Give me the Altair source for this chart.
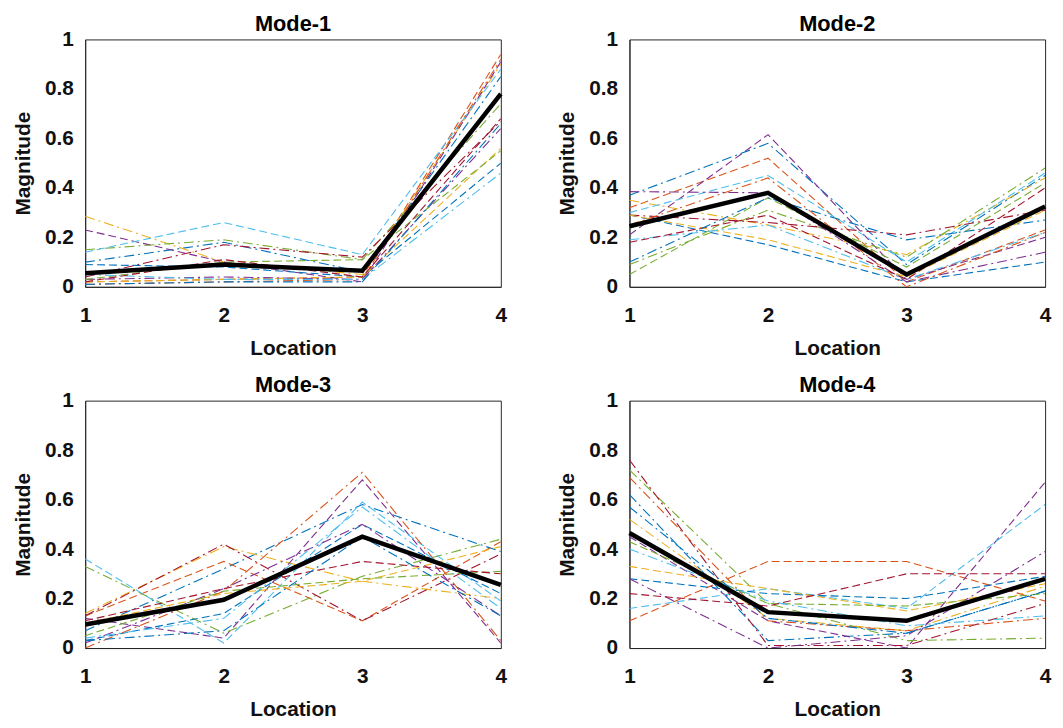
import altair as alt
import pandas as pd

locations = [1, 2, 3, 4]
mode_titles = ["Mode-1", "Mode-2", "Mode-3", "Mode-4"]

mode1_lines = [
    [0.10, 0.18, 0.06, 0.85],
    [0.02, 0.03, 0.04, 0.94],
    [0.285, 0.10, 0.05, 0.90],
    [0.23, 0.10, 0.02, 0.91],
    [0.15, 0.19, 0.11, 0.74],
    [0.14, 0.26, 0.13, 0.88],
    [0.04, 0.17, 0.12, 0.67],
    [0.09, 0.08, 0.04, 0.50],
    [0.01, 0.02, 0.03, 0.92],
    [0.02, 0.03, 0.04, 0.56],
    [0.03, 0.04, 0.03, 0.64],
    [0.03, 0.10, 0.11, 0.55],
    [0.05, 0.03, 0.03, 0.46],
    [0.02, 0.11, 0.04, 0.68],
    [0.01, 0.02, 0.02, 0.66],
]
mode1_mean = [0.055, 0.09, 0.065, 0.78]

mode2_lines = [
    [0.37, 0.58, 0.09, 0.45],
    [0.32, 0.52, 0.02, 0.23],
    [0.35, 0.25, 0.13, 0.44],
    [0.21, 0.615, 0.03, 0.20],
    [0.09, 0.31, 0.12, 0.48],
    [0.30, 0.45, 0.10, 0.46],
    [0.29, 0.26, 0.21, 0.31],
    [0.29, 0.17, 0.02, 0.10],
    [0.25, 0.44, 0.00, 0.22],
    [0.29, 0.19, 0.04, 0.31],
    [0.385, 0.38, 0.02, 0.14],
    [0.05, 0.36, 0.08, 0.42],
    [0.19, 0.25, 0.03, 0.22],
    [0.18, 0.29, 0.03, 0.40],
    [0.10, 0.36, 0.19, 0.27],
]
mode2_mean = [0.245, 0.38, 0.05, 0.325]

mode3_lines = [
    [0.07, 0.32, 0.58, 0.39],
    [0.13, 0.35, 0.11, 0.43],
    [0.14, 0.41, 0.27, 0.20],
    [0.12, 0.04, 0.68, 0.02],
    [0.33, 0.06, 0.29, 0.44],
    [0.36, 0.02, 0.59, 0.19],
    [0.13, 0.42, 0.11, 0.38],
    [0.03, 0.14, 0.50, 0.22],
    [0.00, 0.23, 0.71, 0.03],
    [0.10, 0.22, 0.27, 0.41],
    [0.02, 0.24, 0.50, 0.13],
    [0.05, 0.23, 0.28, 0.31],
    [0.04, 0.12, 0.57, 0.16],
    [0.11, 0.24, 0.35, 0.30],
    [0.03, 0.07, 0.45, 0.13],
]
mode3_mean = [0.095, 0.195, 0.45, 0.255]

mode4_lines = [
    [0.62, 0.03, 0.06, 0.23],
    [0.11, 0.35, 0.35, 0.19],
    [0.52, 0.12, 0.07, 0.25],
    [0.45, 0.11, 0.00, 0.67],
    [0.72, 0.18, 0.03, 0.04],
    [0.16, 0.24, 0.16, 0.58],
    [0.76, 0.01, 0.01, 0.18],
    [0.28, 0.22, 0.20, 0.29],
    [0.69, 0.11, 0.07, 0.12],
    [0.33, 0.24, 0.15, 0.26],
    [0.28, 0.00, 0.05, 0.39],
    [0.43, 0.18, 0.17, 0.22],
    [0.40, 0.19, 0.09, 0.13],
    [0.22, 0.17, 0.30, 0.30],
    [0.57, 0.12, 0.06, 0.23],
]
mode4_mean = [0.465, 0.145, 0.11, 0.28]

y_ticks = [0, 0.2, 0.4, 0.6, 0.8, 1]

matlab_colors = ["#0072BD", "#D95319", "#EDB120", "#7E2F8E",
                 "#77AC30", "#4DBEEE", "#A2142F"]
dash_styles = [[10, 4, 2, 4], [8, 4]]

FONT = "Liberation Sans"
INK = "#111111"


def panel(title, lines, mean):
    rows = []
    ids = []
    for i, vals in enumerate(lines):
        sid = f"L{i + 1:02d}"
        ids.append(sid)
        for loc, v in zip(locations, vals):
            rows.append({"s": sid, "loc": loc, "v": v})
    df = pd.DataFrame(rows)
    colors = [matlab_colors[i % 7] for i in range(len(ids))]
    dashes = [dash_styles[i % 2] for i in range(len(ids))]

    x = alt.X("loc:Q", scale=alt.Scale(domain=[1, 4], nice=False),
              axis=alt.Axis(values=locations, format="d", title="Location"))
    y = alt.Y("v:Q", scale=alt.Scale(domain=[0, 1], nice=False),
              axis=alt.Axis(values=y_ticks, format="~g", title="Magnitude"))

    thin = alt.Chart(df).mark_line(strokeWidth=1.1, clip=True).encode(
        x=x, y=y,
        color=alt.Color("s:N", scale=alt.Scale(domain=ids, range=colors), legend=None),
        strokeDash=alt.StrokeDash("s:N", scale=alt.Scale(domain=ids, range=dashes), legend=None),
        detail="s:N",
    )
    mdf = pd.DataFrame({"loc": locations, "v": mean})
    thick = alt.Chart(mdf).mark_line(color="black", strokeWidth=4.5).encode(x=x, y=y)
    return alt.layer(thin, thick).properties(width=420, height=250, title=title)


p1 = panel(mode_titles[0], mode1_lines, mode1_mean)
p2 = panel(mode_titles[1], mode2_lines, mode2_mean)
p3 = panel(mode_titles[2], mode3_lines, mode3_mean)
p4 = panel(mode_titles[3], mode4_lines, mode4_mean)

chart = alt.concat(
    p1, p2, p3, p4, columns=2, spacing={"row": 115, "column": 130}, bounds="flush"
).properties(padding={"left": 4, "top": 0, "right": 0, "bottom": 0}).configure_axis(
    labelFont=FONT, labelFontWeight="bold", labelFontSize=21, labelColor=INK,
    titleFont=FONT, titleFontWeight="bold", titleFontSize=21, titleColor=INK,
    domainColor="#262626", tickSize=0, grid=False, labelFlush=False,
).configure_axisX(labelPadding=18, titlePadding=12).configure_axisY(
    labelPadding=12, titlePadding=11
).configure_view(stroke="#262626", strokeWidth=1).configure_title(
    font=FONT, fontSize=22, fontWeight="bold", color="black", offset=-7
)

chart.save("out.html", embed_options={"renderer": "svg", "actions": False})
